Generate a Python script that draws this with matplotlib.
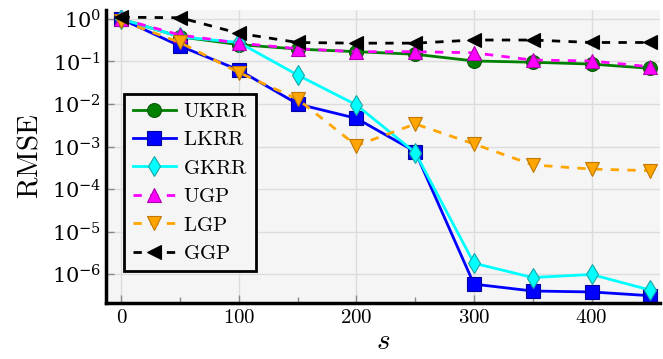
import matplotlib
matplotlib.use("Agg")
import matplotlib.pyplot as plt
from matplotlib.ticker import FixedLocator, FuncFormatter, LogFormatterSciNotation, NullLocator
import numpy as np

plt.rcParams["mathtext.fontset"] = "cm"
plt.rcParams["font.family"] = ["DejaVu Serif"]

s = [0, 50, 100, 150, 200, 250, 300, 350, 400, 450]

ukrr = [1.0, 0.38, 0.25, 0.196, 0.17, 0.148, 0.103, 0.096, 0.087, 0.069]
lkrr = [1.0, 0.23, 0.063, 0.010, 0.0046, 0.00076, 5.8e-7, 4.0e-7, 3.8e-7, 3.1e-7]
gkrr = [1.0, 0.38, 0.28, 0.048, 0.0095, 0.00072, 1.8e-6, 8.3e-7, 9.8e-7, 4.2e-7]
ugp = [1.0, 0.42, 0.27, 0.20, 0.17, 0.17, 0.16, 0.108, 0.103, 0.075]
lgp = [0.91, 0.28, 0.055, 0.013, 0.00105, 0.0034, 0.00115, 3.7e-4, 2.95e-4, 2.7e-4]
ggp = [1.1, 1.07, 0.46, 0.28, 0.27, 0.27, 0.32, 0.32, 0.28, 0.28]

yticks = [1e-6, 1e-5, 1e-4, 1e-3, 1e-2, 1e-1, 1e0]

series = [
    ("UKRR", ukrr, "green", "#0a5a0a", "o", "-"),
    ("LKRR", lkrr, "blue", "#0000a0", "s", "-"),
    ("GKRR", gkrr, "cyan", "#1aa5a5", "d", "-"),
    ("UGP", ugp, "magenta", "#b000b0", "^", (0, (3, 3))),
    ("LGP", lgp, "orange", "#c07800", "v", (0, (3, 3))),
    ("GGP", ggp, "black", "black", "<", (0, (3, 3))),
]

fig = plt.figure(figsize=(6.63, 3.59), dpi=100)
ax = fig.add_axes([0.16, 0.156, 0.835, 0.816])
ax.set_facecolor("#f5f5f5")

for name, vals, col, edge, mk, ls in series:
    ax.plot(s, vals, color=col, linestyle=ls, linewidth=2, marker=mk,
            markersize=10, markerfacecolor=col, markeredgecolor=edge,
            markeredgewidth=0.8, label=r"$\mathrm{%s}$" % name)

ax.set_yscale("log")
ax.set_xlim(-13, 458)
ax.set_ylim(10 ** -6.68, 10 ** 0.21)

ax.xaxis.set_major_locator(FixedLocator([0, 100, 200, 300, 400]))
ax.xaxis.set_minor_locator(FixedLocator([50, 150, 250, 350, 450]))
ax.xaxis.set_major_formatter(FuncFormatter(lambda v, p: r"$%d$" % v))
ax.yaxis.set_major_locator(FixedLocator(yticks))
ax.yaxis.set_major_formatter(LogFormatterSciNotation())
ax.yaxis.set_minor_locator(NullLocator())

ax.grid(True, which="major", color="#dcdcdc", linewidth=1)
ax.set_axisbelow(True)
ax.tick_params(which="both", direction="in", labelsize=15, color="#888888")
ax.tick_params(which="major", length=6, width=1)
ax.tick_params(which="minor", length=4, width=1)

for side in ["top", "right"]:
    ax.spines[side].set_visible(False)
for side in ["left", "bottom"]:
    ax.spines[side].set_linewidth(2.5)

ax.set_ylabel(r"$\mathrm{RMSE}$", fontsize=21, labelpad=6)
ax.set_xlabel(r"$s$", fontsize=21, labelpad=0)

leg = ax.legend(loc="upper left", bbox_to_anchor=(0.014, 0.75), fontsize=15,
                frameon=True, fancybox=False, edgecolor="black",
                facecolor="#f5f5f5", framealpha=1, handlelength=2.1,
                labelspacing=0.45, borderpad=0.4, handletextpad=0.3)
leg.get_frame().set_linewidth(2)

fig.savefig("out.png", dpi=100)
